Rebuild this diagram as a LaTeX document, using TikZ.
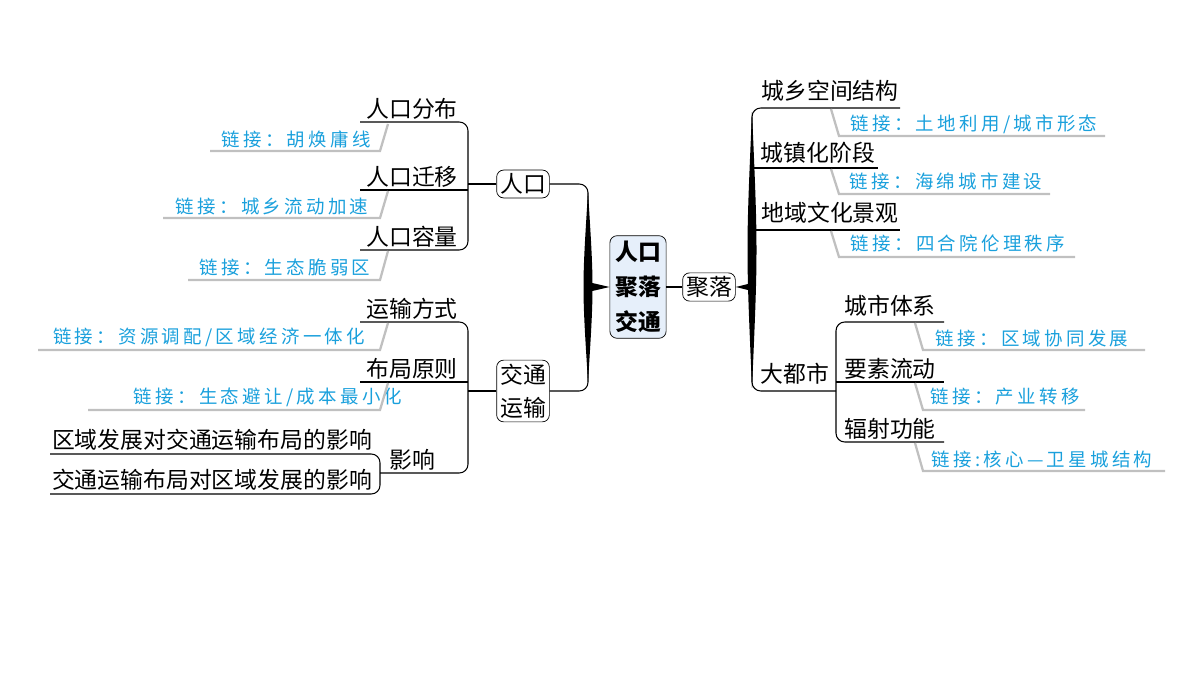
\documentclass[tikz,border=0pt]{standalone}
\usepackage{fontspec}
\setmainfont{Noto Sans CJK SC}
\newfontfamily\linkfont[LetterSpace=18]{Noto Sans CJK SC}
\usetikzlibrary{positioning}
\definecolor{linkblue}{HTML}{1AA0DC}
\definecolor{slantgray}{HTML}{C0C0C0}
\definecolor{hubfill}{HTML}{E6EFFA}
\begin{document}
\begin{tikzpicture}[x=0.02cm,y=-0.02cm,
  topic/.style={draw,rounded corners=4pt,inner sep=2pt,font=\fontsize{13}{15}\selectfont},
  leaf/.style={inner sep=1pt,font=\fontsize{13}{15}\selectfont},
  linktxt/.style={inner sep=1pt,text=linkblue,font=\linkfont\fontsize{10.5}{12}\selectfont},
  under/.style={line width=0.6pt,rounded corners=5},
  gline/.style={slantgray,line width=1.3pt}]
  \useasboundingbox (0,0) rectangle (1200,675);

  % centre
  \node[draw,fill=hubfill,rounded corners=4pt,align=center,inner sep=3pt,
        font=\bfseries\fontsize{13}{20}\selectfont] (hub) at (638,287) {人口\\聚落\\交通};
  \node[topic] (pop) at (523,184) {人口};
  \node[topic,align=center,font=\fontsize{13}{19}\selectfont] (tra) at (523,391) {交通\\运输};
  \node[topic] (set) at (709,287) {聚落};

  % left spine
  \fill (588,192) .. controls (594,287) .. (588,382) .. controls (582,287) .. (588,192);
  \fill (hub.west) -- (588,282) -- (588,292) -- cycle;
  \draw[under] (pop.east) -| (588,240);
  \draw[under] (tra.east) -| (588,330);
  % right spine
  \fill (752,112) .. controls (758,250) .. (752,388) .. controls (746,250) .. (752,112);
  \draw[line width=1.5pt] (hub.east) -- (set.west);
  \fill (set.east) -- (752,283) -- (752,291) -- cycle;

  % population branch
  \node[leaf] (p1) at (412,109) {人口分布};
  \node[leaf] (p2) at (412,177) {人口迁移};
  \node[leaf] (p3) at (412,237) {人口容量};
  \coordinate (pj) at (468,184);
  \draw[under] (360,122) -- (468,122) -- (468,250) -- (360,250);
  \draw[under] (360,190) -- (468,190);
  \draw[under] (pop.west) -- (pj);
  \node[linktxt] (l1) at (296,139) {链接：胡焕庸线};
  \node[linktxt] (l2) at (272,206) {链接：城乡流动加速};
  \node[linktxt] (l3) at (285,267) {链接：生态脆弱区};
  \draw[gline] (210,151) -- (380,151) -- (388,124);
  \draw[gline] (163,218) -- (380,218) -- (388,191);
  \draw[gline] (188,280) -- (380,280) -- (388,251);

  % transport branch
  \node[leaf] (t1) at (412,309) {运输方式};
  \node[leaf] (t2) at (412,369) {布局原则};
  \node[leaf] (t3) at (412,460) {影响};
  \draw[under] (360,322) -- (468,322) -- (468,473) -- (380,473);
  \draw[under] (360,382) -- (468,382);
  \draw[under] (tra.west) -- (468,391);
  \node[linktxt] (l4) at (209,337) {链接：资源调配/区域经济一体化};
  \node[linktxt] (l5) at (268,397) {链接：生态避让/成本最小化};
  \draw[gline] (38,350) -- (380,350) -- (388,323);
  \draw[gline] (88,410) -- (380,410) -- (388,383);
  \node[leaf] (e1) at (212,440) {区域发展对交通运输布局的影响};
  \node[leaf] (e2) at (212,480) {交通运输布局对区域发展的影响};
  \draw[under] (50,454) -- (380,454) -- (380,494) -- (50,494);

  % settlement branch
  \node[leaf] (s1) at (830,91) {城乡空间结构};
  \node[leaf] (s2) at (818,153) {城镇化阶段};
  \node[leaf] (s3) at (830,213) {地域文化景观};
  \node[leaf] (s4) at (795,374) {大都市};
  \draw[under] (900,108) -- (752,108) -- (752,391) -- (836,391);
  \draw[under] (752,168) -- (878,168);
  \draw[under] (752,230) -- (900,230);
  \node[linktxt] (r1) at (974,124) {链接：土地利用/城市形态};
  \node[linktxt] (r2) at (946,181) {链接：海绵城市建设};
  \node[linktxt] (r3) at (958,243) {链接：四合院伦理秩序};
  \draw[gline] (831,109) -- (839,136) -- (1105,136);
  \draw[gline] (831,169) -- (839,194) -- (1050,194);
  \draw[gline] (831,231) -- (839,257) -- (1075,257);

  % metropolis branch
  \node[leaf] (m1) at (890,306) {城市体系};
  \node[leaf] (m2) at (890,369) {要素流动};
  \node[leaf] (m3) at (890,429) {辐射功能};
  \draw[under] (944,322) -- (836,322) -- (836,442) -- (944,442);
  \draw[under] (836,382) -- (944,382);
  \node[linktxt] (r4) at (1032,338) {链接：区域协同发展};
  \node[linktxt] (r5) at (1005,397) {链接：产业转移};
  \node[linktxt] (r6) at (1042,459) {链接:核心—卫星城结构};
  \draw[gline] (915,323) -- (923,350) -- (1145,350);
  \draw[gline] (915,383) -- (923,410) -- (1085,410);
  \draw[gline] (915,443) -- (923,471) -- (1165,471);
\end{tikzpicture}
\end{document}
